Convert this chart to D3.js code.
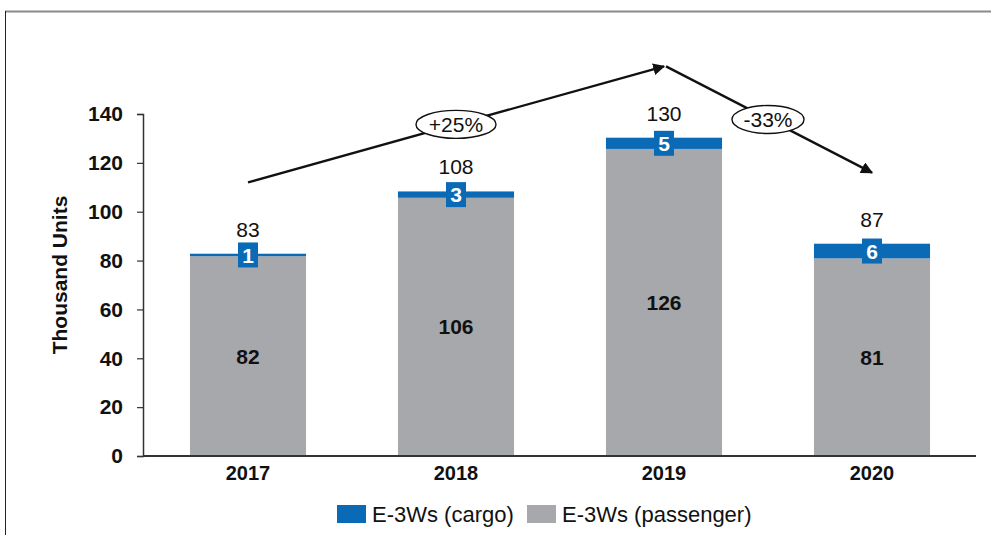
<!DOCTYPE html>
<html>
<head>
<meta charset="utf-8">
<script src="https://cdn.jsdelivr.net/npm/d3@7"></script>
<style>
  html, body { margin: 0; padding: 0; background: #fff; }
  svg { display: block; font-family: "Liberation Sans", Arial, sans-serif; }
</style>
</head>
<body>
<svg id="chart" width="991" height="535"></svg>
<script>
// E-3W sales by year, thousand units
const years = ["2017", "2018", "2019", "2020"];
const passenger = [81.8, 105.7, 125.7, 80.9];
const cargo = [1.0, 2.6, 4.6, 6.0];
const yTicks = [0, 20, 40, 60, 80, 100, 120, 140];
const seriesNames = ["E-3Ws (cargo)", "E-3Ws (passenger)"];
// growth annotation: path through (year, value) and the change labels
const trendPoints = [["2017", 112], ["2019", 159.5], ["2020", 116]];
const trendLabels = ["+25%", "-33%"];

const BLUE = "#0a6ab5";
const GREY = "#a7a8ab";
const INK = "#111";

const svg = d3.select("#chart");
const margin = { left: 143, right: 15, top: 114, bottom: 79 };
const W = 991, H = 535;

const x = d3.scaleBand().domain(years).range([margin.left + 1, margin.left + 1 + 832])
  .paddingInner(0.442).paddingOuter(0.221);
const y = d3.scaleLinear().domain([0, 140]).range([H - margin.bottom, margin.top]);

// outer frame (top and left edges)
svg.append("line").attr("x1", 5).attr("x2", W).attr("y1", 11.5).attr("y2", 11.5)
  .attr("stroke", "#8a8a8a").attr("stroke-width", 2);
svg.append("line").attr("x1", 5.5).attr("x2", 5.5).attr("y1", 11).attr("y2", H)
  .attr("stroke", "#222").attr("stroke-width", 1);

const data = years.map((yr, i) => ({ year: yr, passenger: passenger[i], cargo: cargo[i] }));
const stack = d3.stack().keys(["passenger", "cargo"])(data);
const colors = { passenger: GREY, cargo: BLUE };

// stacked bars
svg.append("g").selectAll("g").data(stack).join("g")
  .attr("fill", d => colors[d.key])
  .selectAll("rect").data(d => d).join("rect")
  .attr("x", d => x(d.data.year))
  .attr("width", x.bandwidth())
  .attr("y", d => y(d[1]))
  .attr("height", d => y(d[0]) - y(d[1]));

// y axis
const yAxis = svg.append("g").attr("transform", `translate(${margin.left},0)`)
  .call(d3.axisLeft(y).tickValues(yTicks).tickSize(6).tickPadding(14));
yAxis.select(".domain").attr("stroke", "#333").attr("stroke-width", 1.5);
yAxis.selectAll(".tick line").attr("stroke", "#333").attr("stroke-width", 1.2);
yAxis.selectAll("text").attr("font-size", 21).attr("font-weight", "bold").attr("fill", INK)
  .attr("font-family", "Liberation Sans, Arial, sans-serif");

// x axis
const xAxis = svg.append("g").attr("transform", `translate(0,${y(0)})`)
  .call(d3.axisBottom(x).tickSize(0).tickPadding(10));
xAxis.select(".domain").attr("stroke", "#333").attr("stroke-width", 2)
  .attr("d", `M${margin.left},0H${W - margin.right}`);
xAxis.selectAll("text").attr("font-size", 20).attr("font-weight", "bold").attr("fill", INK)
  .attr("font-family", "Liberation Sans, Arial, sans-serif");

// axis title
svg.append("text")
  .attr("transform", `translate(67,${(y(0) + y(140)) / 2 - 10}) rotate(-90)`)
  .attr("text-anchor", "middle")
  .attr("font-size", 21).attr("font-weight", "bold").attr("fill", INK)
  .text("Thousand Units");

const fmt = v => String(Math.round(v));
const cx = d => x(d.year) + x.bandwidth() / 2;

// passenger value labels
svg.append("g").selectAll("text").data(data).join("text")
  .attr("x", cx)
  .attr("y", d => y(d.passenger / 2))
  .attr("dy", "0.36em")
  .attr("text-anchor", "middle")
  .attr("font-size", 21).attr("font-weight", "bold").attr("fill", INK)
  .text(d => fmt(d.passenger));

// cargo value badges
const badge = svg.append("g").selectAll("g").data(data).join("g")
  .attr("transform", d => `translate(${cx(d)},${y(d.passenger + d.cargo / 2)})`);
badge.append("rect").attr("x", -10).attr("y", -12.5).attr("width", 20).attr("height", 25).attr("fill", BLUE);
badge.append("text").attr("dy", "0.36em").attr("text-anchor", "middle")
  .attr("font-size", 21).attr("font-weight", "bold").attr("fill", "#fff")
  .text(d => fmt(d.cargo));

// totals above bars
svg.append("g").selectAll("text").data(data).join("text")
  .attr("x", cx)
  .attr("y", d => y(d.passenger + d.cargo) - 17)
  .attr("text-anchor", "middle")
  .attr("font-size", 21).attr("fill", INK)
  .text(d => fmt(d.passenger + d.cargo));

// growth arrows
const defs = svg.append("defs");
defs.append("marker").attr("id", "arrow")
  .attr("viewBox", "0 0 10 10").attr("refX", 9).attr("refY", 5)
  .attr("markerWidth", 5).attr("markerHeight", 5).attr("orient", "auto")
  .append("path").attr("d", "M0,0L10,5L0,10Z").attr("fill", INK);

const pts = trendPoints.map(([yr, v]) => [x(yr) + x.bandwidth() / 2, y(v)]);
for (let i = 0; i < pts.length - 1; i++) {
  const a = pts[i], b = pts[i + 1];
  const off = i === 0 ? 0 : 2;
  svg.append("line")
    .attr("x1", a[0] + off).attr("y1", a[1])
    .attr("x2", b[0]).attr("y2", b[1])
    .attr("stroke", INK).attr("stroke-width", 2.4)
    .attr("marker-end", "url(#arrow)");
}

// change labels in ellipses on each segment
trendLabels.forEach((lbl, i) => {
  const a = pts[i], b = pts[i + 1];
  const ex = i === 0 ? x(years[1]) + x.bandwidth() / 2 : (a[0] + b[0]) / 2;
  const ey = a[1] + (b[1] - a[1]) * (ex - a[0]) / (b[0] - a[0]);
  const g = svg.append("g").attr("transform", `translate(${ex},${ey})`);
  g.append("ellipse").attr("rx", i === 0 ? 40 : 36).attr("ry", 14)
    .attr("fill", "#fff").attr("stroke", INK).attr("stroke-width", 1.4);
  g.append("text").attr("text-anchor", "middle").attr("dy", "0.36em")
    .attr("font-size", 21).attr("fill", INK).text(lbl);
});

// legend
const legend = svg.append("g").attr("transform", "translate(337,505)");
const items = [{ name: seriesNames[0], color: BLUE, x: 0 }, { name: seriesNames[1], color: GREY, x: 190 }];
const li = legend.selectAll("g").data(items).join("g").attr("transform", d => `translate(${d.x},0)`);
li.append("rect").attr("width", 29).attr("height", 18).attr("fill", d => d.color);
li.append("text").attr("x", 35).attr("y", 9).attr("dy", "0.36em")
  .attr("font-size", 22).attr("fill", INK).text(d => d.name);
</script>
</body>
</html>
